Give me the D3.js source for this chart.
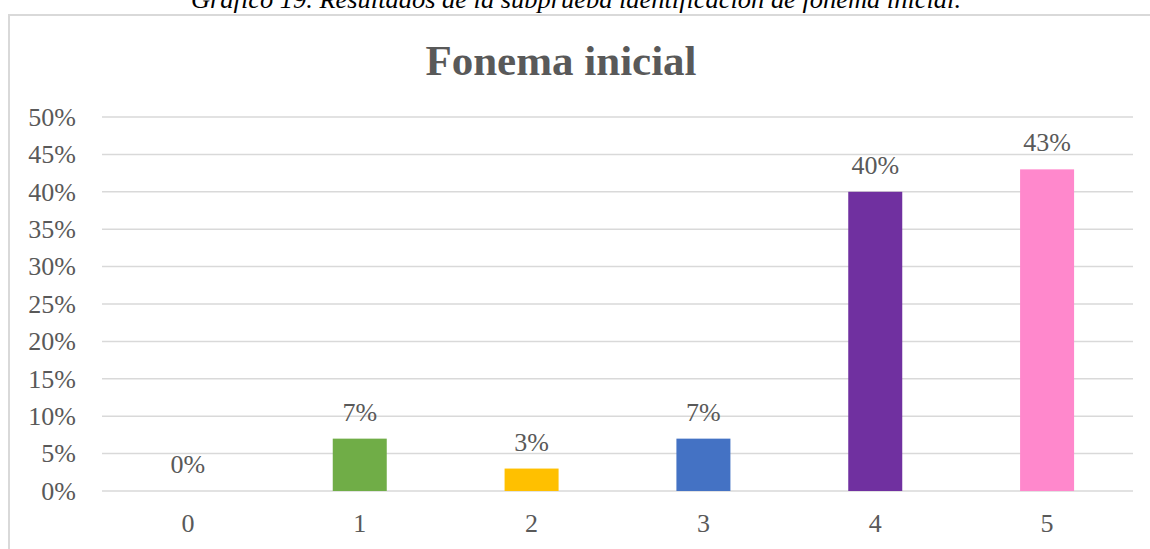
<!DOCTYPE html>
<html><head><meta charset="utf-8">
<script src="https://cdn.jsdelivr.net/npm/d3@7"></script>
<style>body{margin:0;background:#fff}svg{display:block}</style>
</head><body>
<script>
const categories = ["0","1","2","3","4","5"];
const values = [0, 7, 3, 7, 40, 43];
const colors = ["#4472c4","#70ad47","#ffc000","#4472c4","#7030a0","#ff88cc"];
const yTicks = [0,5,10,15,20,25,30,35,40,45,50];
const title = "Fonema inicial";
const caption = "Gráfico 19. Resultados de la subprueba identificación de fonema inicial.";

const W = 1150, H = 549;
const svg = d3.select("body").append("svg").attr("width", W).attr("height", H);
const font = "'Liberation Serif','Times New Roman',serif";

svg.append("text").attr("x", 576).attr("y", 8).attr("text-anchor","middle")
  .attr("font-family", font).attr("font-style","italic").attr("font-size", 25)
  .attr("textLength", 770).attr("lengthAdjust","spacingAndGlyphs")
  .attr("fill","#000").text(caption);

svg.append("rect").attr("x", 9).attr("y", 15).attr("width", W).attr("height", H)
  .attr("fill","none").attr("stroke","#d9d9d9").attr("stroke-width", 2);

svg.append("text").attr("x", 561).attr("y", 75).attr("text-anchor","middle")
  .attr("font-family", font).attr("font-weight","bold").attr("font-size", 43)
  .attr("fill","#595959").text(title);

const xb = d3.scaleBand().domain(categories).range([102, 1133]);
const y = d3.scaleLinear().domain([0, 50]).range([491, 117]);

const grid = svg.append("g");
grid.selectAll("line").data(yTicks).join("line")
  .attr("x1", 102).attr("x2", 1133).attr("y1", d => y(d)).attr("y2", d => y(d))
  .attr("stroke", "#d9d9d9").attr("stroke-width", 1.5);

const yAxis = svg.append("g").attr("transform","translate(102,0)")
  .call(d3.axisLeft(y).tickValues(yTicks).tickFormat(d => d + "%").tickSize(0).tickPadding(26));
yAxis.select(".domain").remove();
yAxis.selectAll("text").attr("font-family", font).attr("font-size", 26).attr("fill","#595959");

const xAxis = svg.append("g").attr("transform","translate(0,491)")
  .call(d3.axisBottom(xb).tickSize(0).tickPadding(23));
xAxis.select(".domain").remove();
xAxis.selectAll("text").attr("font-family", font).attr("font-size", 26).attr("fill","#595959");

const bw = 54;
svg.append("g").selectAll("rect").data(values).join("rect")
  .attr("x", (d,i) => xb(categories[i]) + xb.bandwidth()/2 - bw/2)
  .attr("width", bw)
  .attr("y", d => y(d)).attr("height", d => y(0) - y(d))
  .attr("fill", (d,i) => colors[i]);

svg.append("g").selectAll("text").data(values).join("text")
  .attr("x", (d,i) => xb(categories[i]) + xb.bandwidth()/2)
  .attr("y", d => y(d) - 18)
  .attr("text-anchor","middle")
  .attr("font-family", font).attr("font-size", 26).attr("fill","#595959")
  .text(d => d + "%");
</script>
</body></html>
